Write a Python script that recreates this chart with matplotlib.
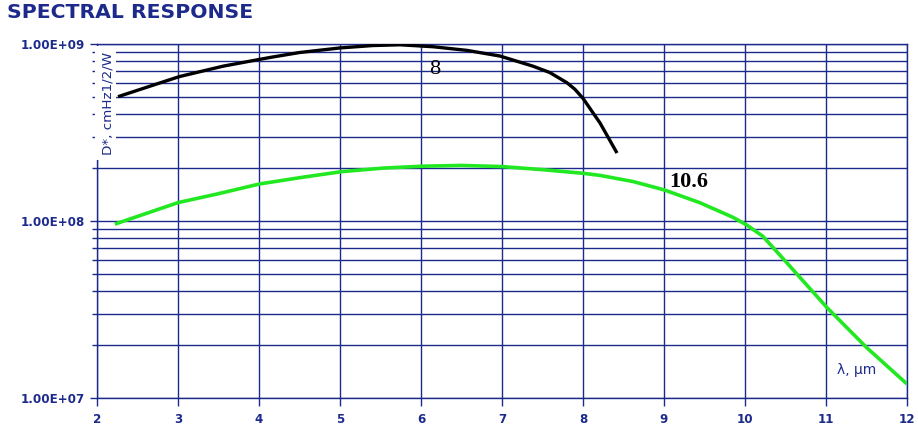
import numpy as np
import matplotlib
matplotlib.use("Agg")
import matplotlib.pyplot as plt
from matplotlib.ticker import LogLocator, NullFormatter
from matplotlib.patches import Rectangle

# Data
x8 = [2.26, 2.74, 3.02, 3.56, 4.14, 4.5, 5.0, 5.4, 5.74, 6.15, 6.57, 6.975, 7.38, 7.59, 7.80, 7.9,
      8.0, 8.21, 8.42]
d8 = [5.04e8, 5.95e8, 6.55e8, 7.5e8, 8.4e8, 8.95e8, 9.5e8, 9.8e8, 9.9e8, 9.65e8, 9.2e8, 8.55e8,
      7.5e8, 6.9e8, 6.05e8, 5.55e8, 4.93e8, 3.58e8, 2.42e8]

x106 = [2.22, 3.0, 3.48, 4.01, 4.55, 5.02, 5.53, 6.02, 6.5, 7.0, 7.5, 8.0, 8.21, 8.62, 9.0, 9.44,
        9.85, 10.02, 10.22, 10.51, 11.01, 11.5, 12.0]
d106 = [9.6e7, 1.27e8, 1.42e8, 1.62e8, 1.77e8, 1.90e8, 1.99e8, 2.04e8, 2.06e8, 2.03e8, 1.95e8,
        1.86e8, 1.81e8, 1.67e8, 1.50e8, 1.27e8, 1.05e8, 9.5e7, 8.2e7, 5.85e7, 3.25e7, 1.93e7, 1.2e7]

xticks = [2, 3, 4, 5, 6, 7, 8, 9, 10, 11, 12]
ytick_vals = [1e7, 1e8, 1e9]
ytick_labels = ["1.00E+07", "1.00E+08", "1.00E+09"]

navy = "#1c2a8c"
sans = ['DejaVu Sans']
serif = ['Liberation Serif', 'DejaVu Serif']
plt.rcParams['font.family'] = sans

fig = plt.figure(figsize=(9.18, 4.30), dpi=100)
ax = fig.add_axes([97/918, 1-398/430, 810/918, 354/430])
ax.set_yscale('log')
ax.set_xlim(2, 12)
ax.set_ylim(1e7, 1e9)

ax.set_xticks(xticks)
ax.set_xticklabels([str(v) for v in xticks])
ax.set_yticks(ytick_vals)
ax.set_yticklabels(ytick_labels)
ax.yaxis.set_minor_locator(LogLocator(base=10, subs=np.arange(2, 10)))
ax.yaxis.set_minor_formatter(NullFormatter())

ax.grid(True, which='major', axis='both', color=navy, lw=1.0)
ax.grid(True, which='minor', axis='y', color=navy, lw=1.0)
for s in ax.spines.values():
    s.set_color(navy)
    s.set_linewidth(1.0)

ax.tick_params(axis='both', which='both', colors=navy, labelcolor=navy, width=1.0)
ax.tick_params(axis='y', which='major', length=5, pad=4, labelsize=8.6)
ax.tick_params(axis='y', which='minor', length=3.5)
ax.tick_params(axis='x', which='major', length=6, pad=5, labelsize=8.6)
for lab in ax.get_xticklabels() + ax.get_yticklabels():
    lab.set_fontweight('bold')

ax.plot(x8, d8, color='black', lw=2.4, solid_capstyle='butt', solid_joinstyle='round', zorder=3)
ax.plot(x106, d106, color='#22e822', lw=2.6, solid_capstyle='butt', solid_joinstyle='round', zorder=3)

ax.text(6.17, 7.2e8, "8", family=serif, fontsize=16, color='black',
        ha='center', va='center', zorder=4)
ax.text(9.07, 1.67e8, "10.6", family=serif, fontsize=16, fontweight='bold',
        color='black', ha='left', va='center', zorder=4)

# white box behind the y label
ax.add_patch(Rectangle((-0.002, 0.672), 0.026, 0.321, transform=ax.transAxes,
                       facecolor='white', edgecolor='none', zorder=2.7, clip_on=False))
ax.text(0.0135, 0.977, "D*, cmHz1/2/W", transform=ax.transAxes, rotation=90,
        fontsize=9.7, color=navy, ha='center', va='top', zorder=4)
ax.text(0.938, 0.079, "\u03bb, \u00b5m", transform=ax.transAxes,
        fontsize=10, color=navy, ha='center', va='center', zorder=4)

fig.text(7/918, 1-12.5/430, "SPECTRAL RESPONSE", fontsize=14.7, fontweight='bold',
         color=navy, ha='left', va='center')

fig.savefig("out.png", dpi=100)
